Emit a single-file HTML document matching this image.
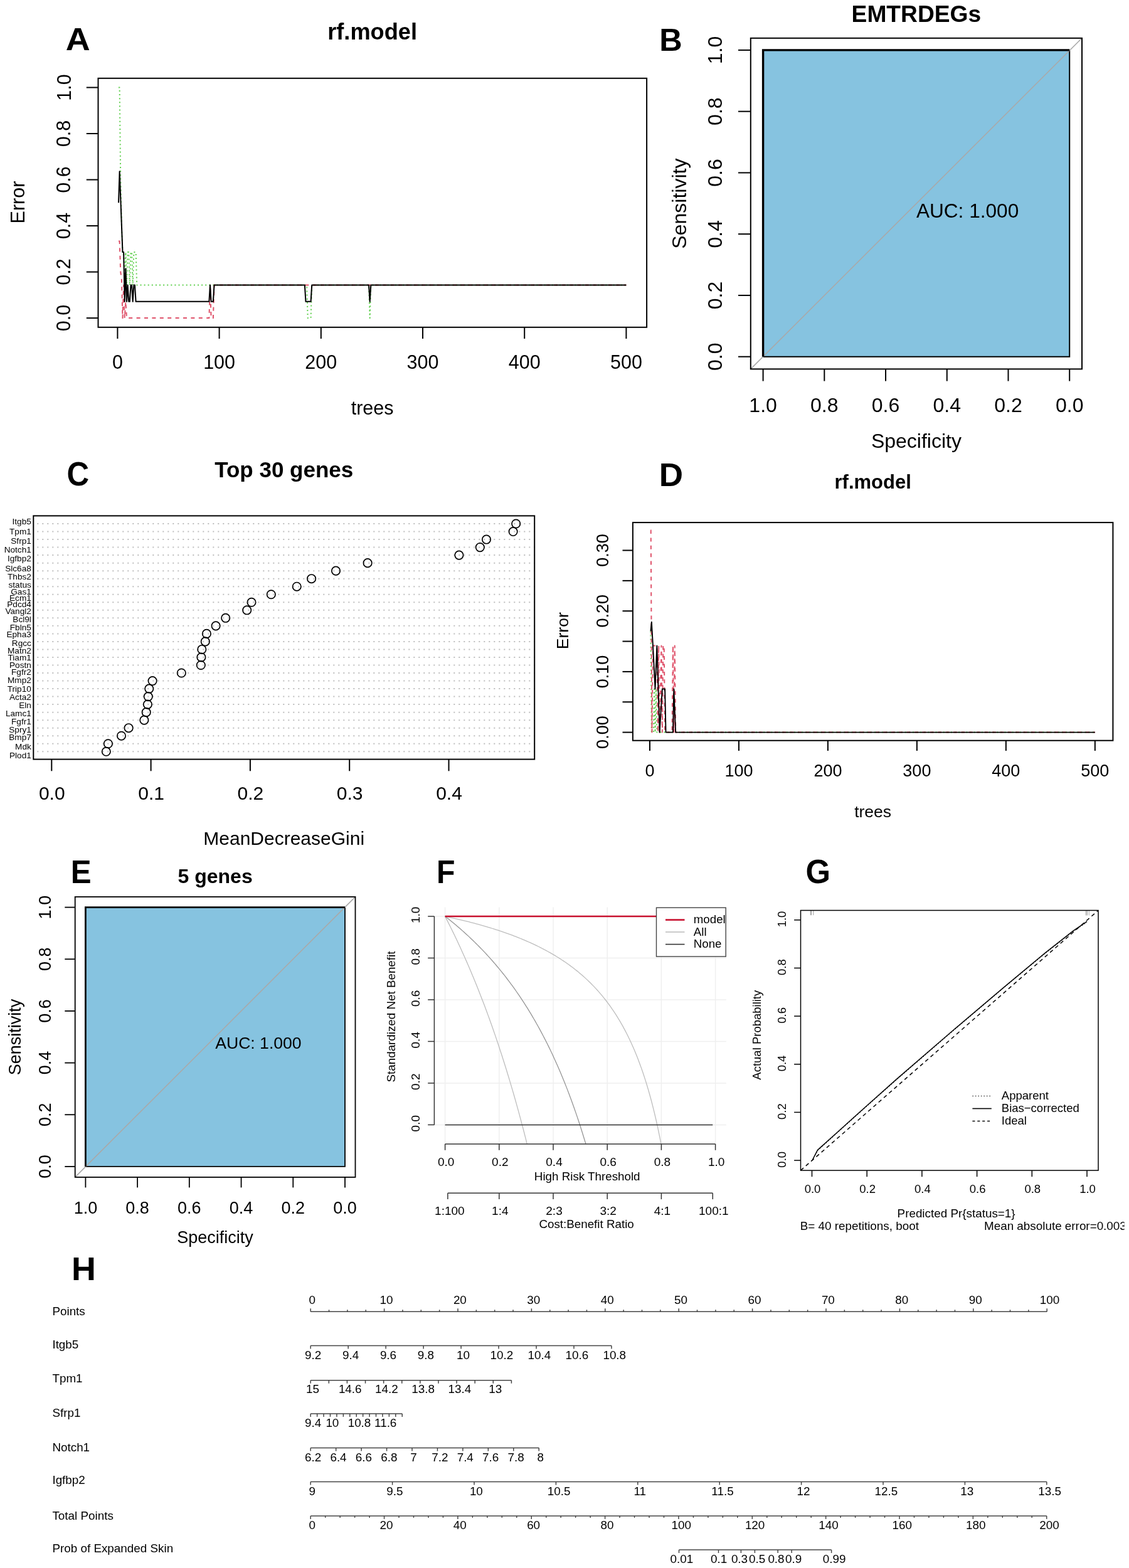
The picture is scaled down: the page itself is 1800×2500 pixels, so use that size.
<!DOCTYPE html>
<html><head><meta charset="utf-8"><title>Figure</title>
<style>
html,body{margin:0;padding:0;background:#fff;width:1800px;height:2500px;overflow:hidden}
svg{display:block}
text{font-family:"Liberation Sans",Arial,Helvetica,sans-serif}
</style></head><body>
<svg width="1800" height="2500" viewBox="0 0 1800 2500" font-family="'Liberation Sans', Arial, Helvetica, sans-serif">
<rect x="0" y="0" width="1800" height="2500" fill="#fff"/>
<text x="0" y="0" font-size="50" font-weight="bold" fill="#000" transform="translate(104.78 80.49) scale(1.0788 1.0171)">A</text>
<text x="593.6" y="63.2" font-size="36.2" text-anchor="middle" font-weight="bold" fill="#000">rf.model</text>
<polyline points="189.02,139.5 190.64,139.5 192.27,286.54 193.89,360.06 195.51,402.08 197.13,402.08 198.75,454.57 200.38,402.08 202,454.57 203.62,402.08 205.24,402.08 206.86,454.57 208.49,402.08 210.11,402.08 211.73,454.57 213.35,402.08 214.97,402.08 216.6,402.08 218.22,454.57 489.09,454.57 490.71,507.1 495.58,507.1 497.2,454.57 588.03,454.57 589.66,507.1 591.28,454.57 998.4,454.57" fill="none" stroke="#61D04F" stroke-width="2" stroke-linejoin="round" stroke-linecap="butt" stroke-dasharray="2,4.1"/>
<polyline points="189.02,384.58 190.64,384.58 192.27,433.58 193.89,445.82 195.51,507.1 197.13,454.57 198.75,507.1 200.38,480.85 202,507.1 333.38,507.1 335,454.57 336.62,507.1 339.87,507.1 341.49,454.57 998.4,454.57" fill="none" stroke="#DF536B" stroke-width="2" stroke-linejoin="round" stroke-linecap="butt" stroke-dasharray="6,6.4"/>
<polyline points="189.02,323.3 190.64,273.16 195.51,402.08 197.13,402.08 198.75,480.85 200.38,428.32 202,480.85 203.62,454.57 205.24,480.85 206.86,480.85 208.49,454.57 210.11,454.57 211.73,480.85 213.35,454.57 214.97,454.57 216.6,480.85 333.38,480.85 335,454.57 336.62,480.85 339.87,480.85 341.49,454.57 485.85,454.57 487.47,480.85 495.58,480.85 497.2,454.57 588.03,454.57 589.66,480.85 591.28,454.57 998.4,454.57" fill="none" stroke="#000" stroke-width="2" stroke-linejoin="round" stroke-linecap="butt"/>
<rect x="156.5" y="124.8" width="874.6" height="397" stroke="#000" stroke-width="2" fill="none"/>
<line x1="137.8" y1="507.1" x2="156.5" y2="507.1" stroke="#000" stroke-width="2" stroke-linecap="butt"/>
<text x="112.5" y="507.1" font-size="30.5" text-anchor="middle" transform="rotate(-90 112.5 507.1)" fill="#000">0.0</text>
<line x1="137.8" y1="433.58" x2="156.5" y2="433.58" stroke="#000" stroke-width="2" stroke-linecap="butt"/>
<text x="112.5" y="433.58" font-size="30.5" text-anchor="middle" transform="rotate(-90 112.5 433.58)" fill="#000">0.2</text>
<line x1="137.8" y1="360.06" x2="156.5" y2="360.06" stroke="#000" stroke-width="2" stroke-linecap="butt"/>
<text x="112.5" y="360.06" font-size="30.5" text-anchor="middle" transform="rotate(-90 112.5 360.06)" fill="#000">0.4</text>
<line x1="137.8" y1="286.54" x2="156.5" y2="286.54" stroke="#000" stroke-width="2" stroke-linecap="butt"/>
<text x="112.5" y="286.54" font-size="30.5" text-anchor="middle" transform="rotate(-90 112.5 286.54)" fill="#000">0.6</text>
<line x1="137.8" y1="213.02" x2="156.5" y2="213.02" stroke="#000" stroke-width="2" stroke-linecap="butt"/>
<text x="112.5" y="213.02" font-size="30.5" text-anchor="middle" transform="rotate(-90 112.5 213.02)" fill="#000">0.8</text>
<line x1="137.8" y1="139.5" x2="156.5" y2="139.5" stroke="#000" stroke-width="2" stroke-linecap="butt"/>
<text x="112.5" y="139.5" font-size="30.5" text-anchor="middle" transform="rotate(-90 112.5 139.5)" fill="#000">1.0</text>
<line x1="187.4" y1="521.8" x2="187.4" y2="540" stroke="#000" stroke-width="2" stroke-linecap="butt"/>
<text x="187.4" y="587.5" font-size="30.5" text-anchor="middle" fill="#000">0</text>
<line x1="349.6" y1="521.8" x2="349.6" y2="540" stroke="#000" stroke-width="2" stroke-linecap="butt"/>
<text x="349.6" y="587.5" font-size="30.5" text-anchor="middle" fill="#000">100</text>
<line x1="511.8" y1="521.8" x2="511.8" y2="540" stroke="#000" stroke-width="2" stroke-linecap="butt"/>
<text x="511.8" y="587.5" font-size="30.5" text-anchor="middle" fill="#000">200</text>
<line x1="674" y1="521.8" x2="674" y2="540" stroke="#000" stroke-width="2" stroke-linecap="butt"/>
<text x="674" y="587.5" font-size="30.5" text-anchor="middle" fill="#000">300</text>
<line x1="836.2" y1="521.8" x2="836.2" y2="540" stroke="#000" stroke-width="2" stroke-linecap="butt"/>
<text x="836.2" y="587.5" font-size="30.5" text-anchor="middle" fill="#000">400</text>
<line x1="998.4" y1="521.8" x2="998.4" y2="540" stroke="#000" stroke-width="2" stroke-linecap="butt"/>
<text x="998.4" y="587.5" font-size="30.5" text-anchor="middle" fill="#000">500</text>
<text x="593.6" y="661" font-size="30.5" text-anchor="middle" fill="#000">trees</text>
<text x="39" y="322.5" font-size="30.5" text-anchor="middle" transform="rotate(-90 39 322.5)" fill="#000">Error</text>
<text x="0" y="0" font-size="50" font-weight="bold" fill="#000" transform="translate(1051.16 80.8) scale(1.0100 1.0057)">B</text>
<text x="1460.9" y="34.5" font-size="37.2" text-anchor="middle" font-weight="bold" fill="#000">EMTRDEGs</text>
<rect x="1216.6" y="79.9" width="488.6" height="488.8" stroke="none" stroke-width="0" fill="#86C3E0"/>
<polyline points="1216.6,568.7 1705.2,568.7 1705.2,79.9" fill="none" stroke="#000" stroke-width="2" stroke-linejoin="miter" stroke-linecap="butt"/>
<line x1="1196.8" y1="588.4" x2="1725" y2="60.8" stroke="#A9A9A9" stroke-width="1.6" stroke-linecap="butt"/>
<polyline points="1216.6,568.7 1216.6,79.9 1705.2,79.9" fill="none" stroke="#000" stroke-width="3.4" stroke-linejoin="miter" stroke-linecap="butt"/>
<rect x="1196.8" y="60.8" width="528.2" height="527.6" stroke="#000" stroke-width="2" fill="none"/>
<line x1="1177" y1="568.7" x2="1196.8" y2="568.7" stroke="#000" stroke-width="2" stroke-linecap="butt"/>
<text x="1151.3" y="568.7" font-size="32" text-anchor="middle" transform="rotate(-90 1151.3 568.7)" fill="#000">0.0</text>
<line x1="1216.6" y1="588.4" x2="1216.6" y2="607.6" stroke="#000" stroke-width="2" stroke-linecap="butt"/>
<text x="1216.6" y="656.5" font-size="32" text-anchor="middle" fill="#000">1.0</text>
<line x1="1177" y1="470.94" x2="1196.8" y2="470.94" stroke="#000" stroke-width="2" stroke-linecap="butt"/>
<text x="1151.3" y="470.94" font-size="32" text-anchor="middle" transform="rotate(-90 1151.3 470.94)" fill="#000">0.2</text>
<line x1="1314.32" y1="588.4" x2="1314.32" y2="607.6" stroke="#000" stroke-width="2" stroke-linecap="butt"/>
<text x="1314.32" y="656.5" font-size="32" text-anchor="middle" fill="#000">0.8</text>
<line x1="1177" y1="373.18" x2="1196.8" y2="373.18" stroke="#000" stroke-width="2" stroke-linecap="butt"/>
<text x="1151.3" y="373.18" font-size="32" text-anchor="middle" transform="rotate(-90 1151.3 373.18)" fill="#000">0.4</text>
<line x1="1412.04" y1="588.4" x2="1412.04" y2="607.6" stroke="#000" stroke-width="2" stroke-linecap="butt"/>
<text x="1412.04" y="656.5" font-size="32" text-anchor="middle" fill="#000">0.6</text>
<line x1="1177" y1="275.42" x2="1196.8" y2="275.42" stroke="#000" stroke-width="2" stroke-linecap="butt"/>
<text x="1151.3" y="275.42" font-size="32" text-anchor="middle" transform="rotate(-90 1151.3 275.42)" fill="#000">0.6</text>
<line x1="1509.76" y1="588.4" x2="1509.76" y2="607.6" stroke="#000" stroke-width="2" stroke-linecap="butt"/>
<text x="1509.76" y="656.5" font-size="32" text-anchor="middle" fill="#000">0.4</text>
<line x1="1177" y1="177.66" x2="1196.8" y2="177.66" stroke="#000" stroke-width="2" stroke-linecap="butt"/>
<text x="1151.3" y="177.66" font-size="32" text-anchor="middle" transform="rotate(-90 1151.3 177.66)" fill="#000">0.8</text>
<line x1="1607.48" y1="588.4" x2="1607.48" y2="607.6" stroke="#000" stroke-width="2" stroke-linecap="butt"/>
<text x="1607.48" y="656.5" font-size="32" text-anchor="middle" fill="#000">0.2</text>
<line x1="1177" y1="79.9" x2="1196.8" y2="79.9" stroke="#000" stroke-width="2" stroke-linecap="butt"/>
<text x="1151.3" y="79.9" font-size="32" text-anchor="middle" transform="rotate(-90 1151.3 79.9)" fill="#000">1.0</text>
<line x1="1705.2" y1="588.4" x2="1705.2" y2="607.6" stroke="#000" stroke-width="2" stroke-linecap="butt"/>
<text x="1705.2" y="656.5" font-size="32" text-anchor="middle" fill="#000">0.0</text>
<text x="1460.9" y="714.3" font-size="32" text-anchor="middle" fill="#000">Specificity</text>
<text x="1093.9" y="324.6" font-size="32" text-anchor="middle" transform="rotate(-90 1093.9 324.6)" fill="#000">Sensitivity</text>
<text x="1460.9" y="346.93" font-size="31.6" text-anchor="start" fill="#000">AUC: 1.000</text>
<text x="0" y="0" font-size="50" font-weight="bold" fill="#000" transform="translate(106.43 774.47) scale(0.9875 1.0600)">C</text>
<text x="452.7" y="761.3" font-size="35" text-anchor="middle" font-weight="bold" fill="#000">Top 30 genes</text>
<line x1="53.3" y1="835" x2="852.2" y2="835" stroke="#BEBEBE" stroke-width="2" stroke-linecap="butt" stroke-dasharray="2,6" stroke-dashoffset="-6"/>
<line x1="53.3" y1="847.53" x2="852.2" y2="847.53" stroke="#BEBEBE" stroke-width="2" stroke-linecap="butt" stroke-dasharray="2,6" stroke-dashoffset="-6"/>
<line x1="53.3" y1="860.05" x2="852.2" y2="860.05" stroke="#BEBEBE" stroke-width="2" stroke-linecap="butt" stroke-dasharray="2,6" stroke-dashoffset="-6"/>
<line x1="53.3" y1="872.58" x2="852.2" y2="872.58" stroke="#BEBEBE" stroke-width="2" stroke-linecap="butt" stroke-dasharray="2,6" stroke-dashoffset="-6"/>
<line x1="53.3" y1="885.11" x2="852.2" y2="885.11" stroke="#BEBEBE" stroke-width="2" stroke-linecap="butt" stroke-dasharray="2,6" stroke-dashoffset="-6"/>
<line x1="53.3" y1="897.63" x2="852.2" y2="897.63" stroke="#BEBEBE" stroke-width="2" stroke-linecap="butt" stroke-dasharray="2,6" stroke-dashoffset="-6"/>
<line x1="53.3" y1="910.16" x2="852.2" y2="910.16" stroke="#BEBEBE" stroke-width="2" stroke-linecap="butt" stroke-dasharray="2,6" stroke-dashoffset="-6"/>
<line x1="53.3" y1="922.69" x2="852.2" y2="922.69" stroke="#BEBEBE" stroke-width="2" stroke-linecap="butt" stroke-dasharray="2,6" stroke-dashoffset="-6"/>
<line x1="53.3" y1="935.22" x2="852.2" y2="935.22" stroke="#BEBEBE" stroke-width="2" stroke-linecap="butt" stroke-dasharray="2,6" stroke-dashoffset="-6"/>
<line x1="53.3" y1="947.74" x2="852.2" y2="947.74" stroke="#BEBEBE" stroke-width="2" stroke-linecap="butt" stroke-dasharray="2,6" stroke-dashoffset="-6"/>
<line x1="53.3" y1="960.27" x2="852.2" y2="960.27" stroke="#BEBEBE" stroke-width="2" stroke-linecap="butt" stroke-dasharray="2,6" stroke-dashoffset="-6"/>
<line x1="53.3" y1="972.8" x2="852.2" y2="972.8" stroke="#BEBEBE" stroke-width="2" stroke-linecap="butt" stroke-dasharray="2,6" stroke-dashoffset="-6"/>
<line x1="53.3" y1="985.32" x2="852.2" y2="985.32" stroke="#BEBEBE" stroke-width="2" stroke-linecap="butt" stroke-dasharray="2,6" stroke-dashoffset="-6"/>
<line x1="53.3" y1="997.85" x2="852.2" y2="997.85" stroke="#BEBEBE" stroke-width="2" stroke-linecap="butt" stroke-dasharray="2,6" stroke-dashoffset="-6"/>
<line x1="53.3" y1="1010.38" x2="852.2" y2="1010.38" stroke="#BEBEBE" stroke-width="2" stroke-linecap="butt" stroke-dasharray="2,6" stroke-dashoffset="-6"/>
<line x1="53.3" y1="1022.9" x2="852.2" y2="1022.9" stroke="#BEBEBE" stroke-width="2" stroke-linecap="butt" stroke-dasharray="2,6" stroke-dashoffset="-6"/>
<line x1="53.3" y1="1035.43" x2="852.2" y2="1035.43" stroke="#BEBEBE" stroke-width="2" stroke-linecap="butt" stroke-dasharray="2,6" stroke-dashoffset="-6"/>
<line x1="53.3" y1="1047.96" x2="852.2" y2="1047.96" stroke="#BEBEBE" stroke-width="2" stroke-linecap="butt" stroke-dasharray="2,6" stroke-dashoffset="-6"/>
<line x1="53.3" y1="1060.49" x2="852.2" y2="1060.49" stroke="#BEBEBE" stroke-width="2" stroke-linecap="butt" stroke-dasharray="2,6" stroke-dashoffset="-6"/>
<line x1="53.3" y1="1073.01" x2="852.2" y2="1073.01" stroke="#BEBEBE" stroke-width="2" stroke-linecap="butt" stroke-dasharray="2,6" stroke-dashoffset="-6"/>
<line x1="53.3" y1="1085.54" x2="852.2" y2="1085.54" stroke="#BEBEBE" stroke-width="2" stroke-linecap="butt" stroke-dasharray="2,6" stroke-dashoffset="-6"/>
<line x1="53.3" y1="1098.07" x2="852.2" y2="1098.07" stroke="#BEBEBE" stroke-width="2" stroke-linecap="butt" stroke-dasharray="2,6" stroke-dashoffset="-6"/>
<line x1="53.3" y1="1110.59" x2="852.2" y2="1110.59" stroke="#BEBEBE" stroke-width="2" stroke-linecap="butt" stroke-dasharray="2,6" stroke-dashoffset="-6"/>
<line x1="53.3" y1="1123.12" x2="852.2" y2="1123.12" stroke="#BEBEBE" stroke-width="2" stroke-linecap="butt" stroke-dasharray="2,6" stroke-dashoffset="-6"/>
<line x1="53.3" y1="1135.65" x2="852.2" y2="1135.65" stroke="#BEBEBE" stroke-width="2" stroke-linecap="butt" stroke-dasharray="2,6" stroke-dashoffset="-6"/>
<line x1="53.3" y1="1148.17" x2="852.2" y2="1148.17" stroke="#BEBEBE" stroke-width="2" stroke-linecap="butt" stroke-dasharray="2,6" stroke-dashoffset="-6"/>
<line x1="53.3" y1="1160.7" x2="852.2" y2="1160.7" stroke="#BEBEBE" stroke-width="2" stroke-linecap="butt" stroke-dasharray="2,6" stroke-dashoffset="-6"/>
<line x1="53.3" y1="1173.23" x2="852.2" y2="1173.23" stroke="#BEBEBE" stroke-width="2" stroke-linecap="butt" stroke-dasharray="2,6" stroke-dashoffset="-6"/>
<line x1="53.3" y1="1185.76" x2="852.2" y2="1185.76" stroke="#BEBEBE" stroke-width="2" stroke-linecap="butt" stroke-dasharray="2,6" stroke-dashoffset="-6"/>
<line x1="53.3" y1="1198.28" x2="852.2" y2="1198.28" stroke="#BEBEBE" stroke-width="2" stroke-linecap="butt" stroke-dasharray="2,6" stroke-dashoffset="-6"/>
<circle cx="822.7" cy="835" r="6.7" stroke="#000" stroke-width="1.7" fill="none"/>
<text x="49.8" y="836.2" font-size="13.6" text-anchor="end" fill="#000">Itgb5</text>
<circle cx="818.1" cy="847.53" r="6.7" stroke="#000" stroke-width="1.7" fill="none"/>
<text x="49.8" y="851.5" font-size="13.6" text-anchor="end" fill="#000">Tpm1</text>
<circle cx="775.5" cy="860.05" r="6.7" stroke="#000" stroke-width="1.7" fill="none"/>
<text x="49.8" y="866.5" font-size="13.6" text-anchor="end" fill="#000">Sfrp1</text>
<circle cx="765.3" cy="872.58" r="6.7" stroke="#000" stroke-width="1.7" fill="none"/>
<text x="49.8" y="881.2" font-size="13.6" text-anchor="end" fill="#000">Notch1</text>
<circle cx="731.9" cy="885.11" r="6.7" stroke="#000" stroke-width="1.7" fill="none"/>
<text x="49.8" y="895.3" font-size="13.6" text-anchor="end" fill="#000">Igfbp2</text>
<circle cx="586.1" cy="897.63" r="6.7" stroke="#000" stroke-width="1.7" fill="none"/>
<text x="49.8" y="911.4" font-size="13.6" text-anchor="end" fill="#000">Slc6a8</text>
<circle cx="535.5" cy="910.16" r="6.7" stroke="#000" stroke-width="1.7" fill="none"/>
<text x="49.8" y="924.3" font-size="13.6" text-anchor="end" fill="#000">Thbs2</text>
<circle cx="496.6" cy="922.69" r="6.7" stroke="#000" stroke-width="1.7" fill="none"/>
<text x="49.8" y="936.5" font-size="13.6" text-anchor="end" fill="#000">status</text>
<circle cx="473.2" cy="935.22" r="6.7" stroke="#000" stroke-width="1.7" fill="none"/>
<text x="49.8" y="947.9" font-size="13.6" text-anchor="end" fill="#000">Gas1</text>
<circle cx="432.3" cy="947.74" r="6.7" stroke="#000" stroke-width="1.7" fill="none"/>
<text x="49.8" y="958.3" font-size="13.6" text-anchor="end" fill="#000">Ecm1</text>
<circle cx="401" cy="960.27" r="6.7" stroke="#000" stroke-width="1.7" fill="none"/>
<text x="49.8" y="968.4" font-size="13.6" text-anchor="end" fill="#000">Pdcd4</text>
<circle cx="393.7" cy="972.8" r="6.7" stroke="#000" stroke-width="1.7" fill="none"/>
<text x="49.8" y="979.4" font-size="13.6" text-anchor="end" fill="#000">Vangl2</text>
<circle cx="359.7" cy="985.32" r="6.7" stroke="#000" stroke-width="1.7" fill="none"/>
<text x="49.8" y="991.7" font-size="13.6" text-anchor="end" fill="#000">Bcl9l</text>
<circle cx="344.1" cy="997.85" r="6.7" stroke="#000" stroke-width="1.7" fill="none"/>
<text x="49.8" y="1004.8" font-size="13.6" text-anchor="end" fill="#000">Fbln5</text>
<circle cx="329.4" cy="1010.38" r="6.7" stroke="#000" stroke-width="1.7" fill="none"/>
<text x="49.8" y="1016.1" font-size="13.6" text-anchor="end" fill="#000">Epha3</text>
<circle cx="327.3" cy="1022.9" r="6.7" stroke="#000" stroke-width="1.7" fill="none"/>
<text x="49.8" y="1030.2" font-size="13.6" text-anchor="end" fill="#000">Rgcc</text>
<circle cx="321.8" cy="1035.43" r="6.7" stroke="#000" stroke-width="1.7" fill="none"/>
<text x="49.8" y="1042.2" font-size="13.6" text-anchor="end" fill="#000">Matn2</text>
<circle cx="320.9" cy="1047.96" r="6.7" stroke="#000" stroke-width="1.7" fill="none"/>
<text x="49.8" y="1052.6" font-size="13.6" text-anchor="end" fill="#000">Tiam1</text>
<circle cx="320.3" cy="1060.49" r="6.7" stroke="#000" stroke-width="1.7" fill="none"/>
<text x="49.8" y="1065.4" font-size="13.6" text-anchor="end" fill="#000">Postn</text>
<circle cx="289.3" cy="1073.01" r="6.7" stroke="#000" stroke-width="1.7" fill="none"/>
<text x="49.8" y="1076.4" font-size="13.6" text-anchor="end" fill="#000">Fgfr2</text>
<circle cx="243.1" cy="1085.54" r="6.7" stroke="#000" stroke-width="1.7" fill="none"/>
<text x="49.8" y="1088.7" font-size="13.6" text-anchor="end" fill="#000">Mmp2</text>
<circle cx="237.8" cy="1098.07" r="6.7" stroke="#000" stroke-width="1.7" fill="none"/>
<text x="49.8" y="1102.5" font-size="13.6" text-anchor="end" fill="#000">Trip10</text>
<circle cx="236.3" cy="1110.59" r="6.7" stroke="#000" stroke-width="1.7" fill="none"/>
<text x="49.8" y="1115.6" font-size="13.6" text-anchor="end" fill="#000">Acta2</text>
<circle cx="235.4" cy="1123.12" r="6.7" stroke="#000" stroke-width="1.7" fill="none"/>
<text x="49.8" y="1128.8" font-size="13.6" text-anchor="end" fill="#000">Eln</text>
<circle cx="233.2" cy="1135.65" r="6.7" stroke="#000" stroke-width="1.7" fill="none"/>
<text x="49.8" y="1142.3" font-size="13.6" text-anchor="end" fill="#000">Lamc1</text>
<circle cx="229.9" cy="1148.17" r="6.7" stroke="#000" stroke-width="1.7" fill="none"/>
<text x="49.8" y="1154.5" font-size="13.6" text-anchor="end" fill="#000">Fgfr1</text>
<circle cx="205.1" cy="1160.7" r="6.7" stroke="#000" stroke-width="1.7" fill="none"/>
<text x="49.8" y="1168" font-size="13.6" text-anchor="end" fill="#000">Spry1</text>
<circle cx="193.5" cy="1173.23" r="6.7" stroke="#000" stroke-width="1.7" fill="none"/>
<text x="49.8" y="1179.9" font-size="13.6" text-anchor="end" fill="#000">Bmp7</text>
<circle cx="172.4" cy="1185.76" r="6.7" stroke="#000" stroke-width="1.7" fill="none"/>
<text x="49.8" y="1194.9" font-size="13.6" text-anchor="end" fill="#000">Mdk</text>
<circle cx="169.3" cy="1198.28" r="6.7" stroke="#000" stroke-width="1.7" fill="none"/>
<text x="49.8" y="1208.7" font-size="13.6" text-anchor="end" fill="#000">Plod1</text>
<rect x="53.3" y="822.4" width="798.9" height="388.2" stroke="#000" stroke-width="2" fill="none"/>
<line x1="82.3" y1="1210.6" x2="82.3" y2="1229.3" stroke="#000" stroke-width="2" stroke-linecap="butt"/>
<text x="82.8" y="1275" font-size="30" text-anchor="middle" fill="#000">0.0</text>
<line x1="240.6" y1="1210.6" x2="240.6" y2="1229.3" stroke="#000" stroke-width="2" stroke-linecap="butt"/>
<text x="241.1" y="1275" font-size="30" text-anchor="middle" fill="#000">0.1</text>
<line x1="398.9" y1="1210.6" x2="398.9" y2="1229.3" stroke="#000" stroke-width="2" stroke-linecap="butt"/>
<text x="399.4" y="1275" font-size="30" text-anchor="middle" fill="#000">0.2</text>
<line x1="557.2" y1="1210.6" x2="557.2" y2="1229.3" stroke="#000" stroke-width="2" stroke-linecap="butt"/>
<text x="557.7" y="1275" font-size="30" text-anchor="middle" fill="#000">0.3</text>
<line x1="715.5" y1="1210.6" x2="715.5" y2="1229.3" stroke="#000" stroke-width="2" stroke-linecap="butt"/>
<text x="716" y="1275" font-size="30" text-anchor="middle" fill="#000">0.4</text>
<text x="452.7" y="1347" font-size="30" text-anchor="middle" fill="#000">MeanDecreaseGini</text>
<text x="0" y="0" font-size="50" font-weight="bold" fill="#000" transform="translate(1050.69 775.1) scale(1.0600 1.0486)">D</text>
<text x="1391.7" y="778.6" font-size="31" text-anchor="middle" font-weight="bold" fill="#000">rf.model</text>
<polyline points="1037.42,1006.4 1038.84,1167.6 1041.68,1167.6 1043.1,1098.56 1044.52,1167.6 1045.94,1098.56 1047.36,1167.6 1745.8,1167.6" fill="none" stroke="#61D04F" stroke-width="2" stroke-linejoin="round" stroke-linecap="butt" stroke-dasharray="2,4.1"/>
<polyline points="1037.42,845.3 1037.7,845.3 1039.41,1167.6 1040.97,1029.42 1047.36,1029.42 1048.78,1167.6 1050.2,1029.42 1051.62,1167.6 1054.45,1029.42 1055.87,1167.6 1057.29,1029.42 1058.71,1029.42 1060.13,1167.6 1071.49,1167.6 1072.91,1029.42 1074.33,1167.6 1075.75,1029.42 1077.17,1167.6 1745.8,1167.6" fill="none" stroke="#DF536B" stroke-width="2" stroke-linejoin="round" stroke-linecap="butt" stroke-dasharray="6,6.4"/>
<polyline points="1037.42,1006.4 1038.84,991.8 1040.97,1029.42 1044.52,1098.56 1047.36,1029.42 1051.62,1167.6 1055.87,1098.56 1060.13,1098.56 1061.55,1167.6 1072.91,1167.6 1074.33,1098.56 1077.17,1167.6 1745.8,1167.6" fill="none" stroke="#000" stroke-width="1.9" stroke-linejoin="round" stroke-linecap="butt"/>
<rect x="1008.9" y="833.1" width="765.5" height="347.6" stroke="#000" stroke-width="2" fill="none"/>
<line x1="992.5" y1="1167.6" x2="1008.9" y2="1167.6" stroke="#000" stroke-width="2" stroke-linecap="butt"/>
<text x="970.4" y="1167.6" font-size="27" text-anchor="middle" transform="rotate(-90 970.4 1167.6)" fill="#000">0.00</text>
<line x1="992.5" y1="1119.25" x2="1008.9" y2="1119.25" stroke="#000" stroke-width="2" stroke-linecap="butt"/>
<line x1="992.5" y1="1070.9" x2="1008.9" y2="1070.9" stroke="#000" stroke-width="2" stroke-linecap="butt"/>
<text x="970.4" y="1070.9" font-size="27" text-anchor="middle" transform="rotate(-90 970.4 1070.9)" fill="#000">0.10</text>
<line x1="992.5" y1="1022.55" x2="1008.9" y2="1022.55" stroke="#000" stroke-width="2" stroke-linecap="butt"/>
<line x1="992.5" y1="974.2" x2="1008.9" y2="974.2" stroke="#000" stroke-width="2" stroke-linecap="butt"/>
<text x="970.4" y="974.2" font-size="27" text-anchor="middle" transform="rotate(-90 970.4 974.2)" fill="#000">0.20</text>
<line x1="992.5" y1="925.85" x2="1008.9" y2="925.85" stroke="#000" stroke-width="2" stroke-linecap="butt"/>
<line x1="992.5" y1="877.5" x2="1008.9" y2="877.5" stroke="#000" stroke-width="2" stroke-linecap="butt"/>
<text x="970.4" y="877.5" font-size="27" text-anchor="middle" transform="rotate(-90 970.4 877.5)" fill="#000">0.30</text>
<line x1="1036" y1="1180.7" x2="1036" y2="1197" stroke="#000" stroke-width="2" stroke-linecap="butt"/>
<text x="1036" y="1237.8" font-size="27" text-anchor="middle" fill="#000">0</text>
<line x1="1177.96" y1="1180.7" x2="1177.96" y2="1197" stroke="#000" stroke-width="2" stroke-linecap="butt"/>
<text x="1177.96" y="1237.8" font-size="27" text-anchor="middle" fill="#000">100</text>
<line x1="1319.92" y1="1180.7" x2="1319.92" y2="1197" stroke="#000" stroke-width="2" stroke-linecap="butt"/>
<text x="1319.92" y="1237.8" font-size="27" text-anchor="middle" fill="#000">200</text>
<line x1="1461.88" y1="1180.7" x2="1461.88" y2="1197" stroke="#000" stroke-width="2" stroke-linecap="butt"/>
<text x="1461.88" y="1237.8" font-size="27" text-anchor="middle" fill="#000">300</text>
<line x1="1603.84" y1="1180.7" x2="1603.84" y2="1197" stroke="#000" stroke-width="2" stroke-linecap="butt"/>
<text x="1603.84" y="1237.8" font-size="27" text-anchor="middle" fill="#000">400</text>
<line x1="1745.8" y1="1180.7" x2="1745.8" y2="1197" stroke="#000" stroke-width="2" stroke-linecap="butt"/>
<text x="1745.8" y="1237.8" font-size="27" text-anchor="middle" fill="#000">500</text>
<text x="1391.6" y="1302.5" font-size="26.5" text-anchor="middle" fill="#000">trees</text>
<text x="906" y="1005.7" font-size="26.5" text-anchor="middle" transform="rotate(-90 906 1005.7)" fill="#000">Error</text>
<text x="0" y="0" font-size="50" font-weight="bold" fill="#000" transform="translate(112.65 1407.59) scale(0.9857 1.0400)">E</text>
<text x="343.1" y="1407.5" font-size="32" text-anchor="middle" font-weight="bold" fill="#000">5 genes</text>
<rect x="136.4" y="1446.6" width="413.6" height="413.3" stroke="none" stroke-width="0" fill="#86C3E0"/>
<polyline points="136.4,1859.9 550,1859.9 550,1446.6" fill="none" stroke="#000" stroke-width="1.8" stroke-linejoin="miter" stroke-linecap="butt"/>
<line x1="119.7" y1="1876.9" x2="566.5" y2="1429.9" stroke="#A9A9A9" stroke-width="1.6" stroke-linecap="butt"/>
<polyline points="136.4,1859.9 136.4,1446.6 550,1446.6" fill="none" stroke="#000" stroke-width="2.8" stroke-linejoin="miter" stroke-linecap="butt"/>
<rect x="119.7" y="1429.9" width="446.8" height="447" stroke="#000" stroke-width="1.8" fill="none"/>
<line x1="103.3" y1="1859.9" x2="119.7" y2="1859.9" stroke="#000" stroke-width="1.8" stroke-linecap="butt"/>
<text x="81.4" y="1859.9" font-size="27" text-anchor="middle" transform="rotate(-90 81.4 1859.9)" fill="#000">0.0</text>
<line x1="136.4" y1="1876.9" x2="136.4" y2="1893.4" stroke="#000" stroke-width="1.8" stroke-linecap="butt"/>
<text x="136.4" y="1934.5" font-size="27" text-anchor="middle" fill="#000">1.0</text>
<line x1="103.3" y1="1777.24" x2="119.7" y2="1777.24" stroke="#000" stroke-width="1.8" stroke-linecap="butt"/>
<text x="81.4" y="1777.24" font-size="27" text-anchor="middle" transform="rotate(-90 81.4 1777.24)" fill="#000">0.2</text>
<line x1="219.12" y1="1876.9" x2="219.12" y2="1893.4" stroke="#000" stroke-width="1.8" stroke-linecap="butt"/>
<text x="219.12" y="1934.5" font-size="27" text-anchor="middle" fill="#000">0.8</text>
<line x1="103.3" y1="1694.58" x2="119.7" y2="1694.58" stroke="#000" stroke-width="1.8" stroke-linecap="butt"/>
<text x="81.4" y="1694.58" font-size="27" text-anchor="middle" transform="rotate(-90 81.4 1694.58)" fill="#000">0.4</text>
<line x1="301.84" y1="1876.9" x2="301.84" y2="1893.4" stroke="#000" stroke-width="1.8" stroke-linecap="butt"/>
<text x="301.84" y="1934.5" font-size="27" text-anchor="middle" fill="#000">0.6</text>
<line x1="103.3" y1="1611.92" x2="119.7" y2="1611.92" stroke="#000" stroke-width="1.8" stroke-linecap="butt"/>
<text x="81.4" y="1611.92" font-size="27" text-anchor="middle" transform="rotate(-90 81.4 1611.92)" fill="#000">0.6</text>
<line x1="384.56" y1="1876.9" x2="384.56" y2="1893.4" stroke="#000" stroke-width="1.8" stroke-linecap="butt"/>
<text x="384.56" y="1934.5" font-size="27" text-anchor="middle" fill="#000">0.4</text>
<line x1="103.3" y1="1529.26" x2="119.7" y2="1529.26" stroke="#000" stroke-width="1.8" stroke-linecap="butt"/>
<text x="81.4" y="1529.26" font-size="27" text-anchor="middle" transform="rotate(-90 81.4 1529.26)" fill="#000">0.8</text>
<line x1="467.28" y1="1876.9" x2="467.28" y2="1893.4" stroke="#000" stroke-width="1.8" stroke-linecap="butt"/>
<text x="467.28" y="1934.5" font-size="27" text-anchor="middle" fill="#000">0.2</text>
<line x1="103.3" y1="1446.6" x2="119.7" y2="1446.6" stroke="#000" stroke-width="1.8" stroke-linecap="butt"/>
<text x="81.4" y="1446.6" font-size="27" text-anchor="middle" transform="rotate(-90 81.4 1446.6)" fill="#000">1.0</text>
<line x1="550" y1="1876.9" x2="550" y2="1893.4" stroke="#000" stroke-width="1.8" stroke-linecap="butt"/>
<text x="550" y="1934.5" font-size="27" text-anchor="middle" fill="#000">0.0</text>
<text x="343.1" y="1982.4" font-size="27" text-anchor="middle" fill="#000">Specificity</text>
<text x="32.6" y="1653.4" font-size="27" text-anchor="middle" transform="rotate(-90 32.6 1653.4)" fill="#000">Sensitivity</text>
<text x="343.2" y="1672.3" font-size="26.6" text-anchor="start" fill="#000">AUC: 1.000</text>
<text x="0" y="0" font-size="50" font-weight="bold" fill="#000" transform="translate(695.9 1407.59) scale(0.9654 1.0343)">F</text>
<line x1="709.6" y1="1446.4" x2="709.6" y2="1824" stroke="#EFEFEF" stroke-width="1.5" stroke-linecap="butt"/>
<line x1="692.4" y1="1793.4" x2="1157.8" y2="1793.4" stroke="#EFEFEF" stroke-width="1.5" stroke-linecap="butt"/>
<line x1="795.8" y1="1446.4" x2="795.8" y2="1824" stroke="#EFEFEF" stroke-width="1.5" stroke-linecap="butt"/>
<line x1="692.4" y1="1726.92" x2="1157.8" y2="1726.92" stroke="#EFEFEF" stroke-width="1.5" stroke-linecap="butt"/>
<line x1="882" y1="1446.4" x2="882" y2="1824" stroke="#EFEFEF" stroke-width="1.5" stroke-linecap="butt"/>
<line x1="692.4" y1="1660.44" x2="1157.8" y2="1660.44" stroke="#EFEFEF" stroke-width="1.5" stroke-linecap="butt"/>
<line x1="968.2" y1="1446.4" x2="968.2" y2="1824" stroke="#EFEFEF" stroke-width="1.5" stroke-linecap="butt"/>
<line x1="692.4" y1="1593.96" x2="1157.8" y2="1593.96" stroke="#EFEFEF" stroke-width="1.5" stroke-linecap="butt"/>
<line x1="1054.4" y1="1446.4" x2="1054.4" y2="1824" stroke="#EFEFEF" stroke-width="1.5" stroke-linecap="butt"/>
<line x1="692.4" y1="1527.48" x2="1157.8" y2="1527.48" stroke="#EFEFEF" stroke-width="1.5" stroke-linecap="butt"/>
<line x1="1140.6" y1="1446.4" x2="1140.6" y2="1824" stroke="#EFEFEF" stroke-width="1.5" stroke-linecap="butt"/>
<line x1="692.4" y1="1461" x2="1157.8" y2="1461" stroke="#EFEFEF" stroke-width="1.5" stroke-linecap="butt"/>
<polyline points="709.6,1461 711.74,1465.17 713.89,1469.38 716.03,1473.63 718.18,1477.93 720.32,1482.27 722.47,1486.66 724.61,1491.09 726.75,1495.57 728.9,1500.09 731.04,1504.66 733.19,1509.28 735.33,1513.95 737.47,1518.66 739.62,1523.43 741.76,1528.25 743.91,1533.12 746.05,1538.04 748.2,1543.02 750.34,1548.05 752.48,1553.14 754.63,1558.29 756.77,1563.49 758.92,1568.75 761.06,1574.07 763.21,1579.45 765.35,1584.89 767.49,1590.4 769.64,1595.97 771.78,1601.6 773.93,1607.3 776.07,1613.06 778.22,1618.9 780.36,1624.8 782.5,1630.77 784.65,1636.82 786.79,1642.94 788.94,1649.13 791.08,1655.4 793.22,1661.75 795.37,1668.18 797.51,1674.68 799.66,1681.27 801.8,1687.94 803.95,1694.7 806.09,1701.54 808.23,1708.48 810.38,1715.5 812.52,1722.61 814.67,1729.82 816.81,1737.12 818.96,1744.52 821.1,1752.02 823.24,1759.62 825.39,1767.33 827.53,1775.14 829.68,1783.05 831.82,1791.08 833.97,1799.22 836.11,1807.47 838.25,1815.85 840.31,1823.98" fill="none" stroke="#BDBDBD" stroke-width="1.3" stroke-linejoin="round" stroke-linecap="butt"/>
<polyline points="709.6,1461 711.74,1461.46 713.89,1461.92 716.03,1462.38 718.18,1462.85 720.32,1463.33 722.47,1463.81 724.61,1464.29 726.75,1464.78 728.9,1465.28 731.04,1465.78 733.19,1466.29 735.33,1466.8 737.47,1467.31 739.62,1467.84 741.76,1468.36 743.91,1468.9 746.05,1469.44 748.2,1469.98 750.34,1470.53 752.48,1471.09 754.63,1471.65 756.77,1472.22 758.92,1472.8 761.06,1473.38 763.21,1473.97 765.35,1474.57 767.49,1475.17 769.64,1475.78 771.78,1476.39 773.93,1477.02 776.07,1477.65 778.22,1478.29 780.36,1478.94 782.5,1479.59 784.65,1480.25 786.79,1480.92 788.94,1481.6 791.08,1482.29 793.22,1482.98 795.37,1483.68 797.51,1484.4 799.66,1485.12 801.8,1485.85 803.95,1486.59 806.09,1487.34 808.23,1488.1 810.38,1488.87 812.52,1489.65 814.67,1490.43 816.81,1491.23 818.96,1492.04 821.1,1492.87 823.24,1493.7 825.39,1494.54 827.53,1495.4 829.68,1496.26 831.82,1497.14 833.97,1498.03 836.11,1498.94 838.25,1499.85 840.4,1500.78 842.54,1501.73 844.69,1502.68 846.83,1503.65 848.97,1504.64 851.12,1505.64 853.26,1506.65 855.41,1507.68 857.55,1508.73 859.7,1509.79 861.84,1510.87 863.98,1511.96 866.13,1513.07 868.27,1514.2 870.42,1515.35 872.56,1516.51 874.71,1517.7 876.85,1518.9 878.99,1520.12 881.14,1521.37 883.28,1522.63 885.43,1523.92 887.57,1525.22 889.71,1526.55 891.86,1527.9 894,1529.28 896.15,1530.68 898.29,1532.11 900.44,1533.56 902.58,1535.03 904.72,1536.53 906.87,1538.06 909.01,1539.62 911.16,1541.21 913.3,1542.83 915.45,1544.48 917.59,1546.16 919.73,1547.87 921.88,1549.62 924.02,1551.4 926.17,1553.22 928.31,1555.07 930.46,1556.96 932.6,1558.89 934.74,1560.86 936.89,1562.88 939.03,1564.93 941.18,1567.03 943.32,1569.18 945.46,1571.37 947.61,1573.61 949.75,1575.9 951.9,1578.24 954.04,1580.64 956.19,1583.09 958.33,1585.6 960.47,1588.17 962.62,1590.81 964.76,1593.5 966.91,1596.26 969.05,1599.1 971.2,1602 973.34,1604.98 975.48,1608.03 977.63,1611.17 979.77,1614.39 981.92,1617.7 984.06,1621.09 986.21,1624.58 988.35,1628.17 990.49,1631.87 992.64,1635.67 994.78,1639.58 996.93,1643.61 999.07,1647.75 1001.21,1652.03 1003.36,1656.44 1005.5,1661 1007.65,1665.69 1009.79,1670.55 1011.94,1675.56 1014.08,1680.74 1016.22,1686.11 1018.37,1691.66 1020.51,1697.4 1022.66,1703.36 1024.8,1709.54 1026.95,1715.95 1029.09,1722.61 1031.23,1729.53 1033.38,1736.73 1035.52,1744.22 1037.67,1752.02 1039.81,1760.15 1041.95,1768.64 1044.1,1777.5 1046.24,1786.77 1048.39,1796.47 1050.53,1806.63 1052.68,1817.29 1053.97,1823.98" fill="none" stroke="#BDBDBD" stroke-width="1.3" stroke-linejoin="round" stroke-linecap="butt"/>
<polyline points="709.6,1461 711.74,1462.67 713.89,1464.36 716.03,1466.07 718.18,1467.79 720.32,1469.53 722.47,1471.29 724.61,1473.07 726.75,1474.86 728.9,1476.67 731.04,1478.51 733.19,1480.36 735.33,1482.23 737.47,1484.12 739.62,1486.03 741.76,1487.97 743.91,1489.92 746.05,1491.89 748.2,1493.89 750.34,1495.91 752.48,1497.95 754.63,1500.01 756.77,1502.1 758.92,1504.21 761.06,1506.34 763.21,1508.5 765.35,1510.68 767.49,1512.89 769.64,1515.12 771.78,1517.38 773.93,1519.67 776.07,1521.98 778.22,1524.32 780.36,1526.68 782.5,1529.08 784.65,1531.5 786.79,1533.96 788.94,1536.44 791.08,1538.96 793.22,1541.5 795.37,1544.08 797.51,1546.69 799.66,1549.33 801.8,1552 803.95,1554.71 806.09,1557.46 808.23,1560.24 810.38,1563.05 812.52,1565.91 814.67,1568.8 816.81,1571.72 818.96,1574.69 821.1,1577.7 823.24,1580.75 825.39,1583.84 827.53,1586.97 829.68,1590.14 831.82,1593.36 833.97,1596.63 836.11,1599.94 838.25,1603.29 840.4,1606.7 842.54,1610.15 844.69,1613.66 846.83,1617.21 848.97,1620.82 851.12,1624.48 853.26,1628.19 855.41,1631.97 857.55,1635.79 859.7,1639.68 861.84,1643.63 863.98,1647.63 866.13,1651.71 868.27,1655.84 870.42,1660.04 872.56,1664.31 874.71,1668.64 876.85,1673.05 878.99,1677.53 881.14,1682.08 883.28,1686.71 885.43,1691.42 887.57,1696.2 889.71,1701.07 891.86,1706.02 894,1711.06 896.15,1716.19 898.29,1721.41 900.44,1726.72 902.58,1732.12 904.72,1737.63 906.87,1743.23 909.01,1748.94 911.16,1754.76 913.3,1760.68 915.45,1766.72 917.59,1772.88 919.73,1779.15 921.88,1785.55 924.02,1792.07 926.17,1798.73 928.31,1805.52 930.46,1812.44 932.6,1819.51 933.93,1823.98" fill="none" stroke="#959595" stroke-width="1.3" stroke-linejoin="round" stroke-linecap="butt"/>
<line x1="709.6" y1="1793.4" x2="1136.29" y2="1793.4" stroke="#333333" stroke-width="1.5" stroke-linecap="butt"/>
<line x1="709.6" y1="1461" x2="1136.29" y2="1461" stroke="#C8102E" stroke-width="2.6" stroke-linecap="butt"/>
<line x1="692.4" y1="1461" x2="692.4" y2="1793.4" stroke="#333333" stroke-width="1.5" stroke-linecap="butt"/>
<line x1="682.2" y1="1793.4" x2="692.4" y2="1793.4" stroke="#333333" stroke-width="1.5" stroke-linecap="butt"/>
<text x="669.3" y="1791.2" font-size="19" text-anchor="middle" transform="rotate(-90 669.3 1791.2)" fill="#000">0.0</text>
<line x1="682.2" y1="1726.92" x2="692.4" y2="1726.92" stroke="#333333" stroke-width="1.5" stroke-linecap="butt"/>
<text x="669.3" y="1724.72" font-size="19" text-anchor="middle" transform="rotate(-90 669.3 1724.72)" fill="#000">0.2</text>
<line x1="682.2" y1="1660.44" x2="692.4" y2="1660.44" stroke="#333333" stroke-width="1.5" stroke-linecap="butt"/>
<text x="669.3" y="1658.24" font-size="19" text-anchor="middle" transform="rotate(-90 669.3 1658.24)" fill="#000">0.4</text>
<line x1="682.2" y1="1593.96" x2="692.4" y2="1593.96" stroke="#333333" stroke-width="1.5" stroke-linecap="butt"/>
<text x="669.3" y="1591.76" font-size="19" text-anchor="middle" transform="rotate(-90 669.3 1591.76)" fill="#000">0.6</text>
<line x1="682.2" y1="1527.48" x2="692.4" y2="1527.48" stroke="#333333" stroke-width="1.5" stroke-linecap="butt"/>
<text x="669.3" y="1525.28" font-size="19" text-anchor="middle" transform="rotate(-90 669.3 1525.28)" fill="#000">0.8</text>
<line x1="682.2" y1="1461" x2="692.4" y2="1461" stroke="#333333" stroke-width="1.5" stroke-linecap="butt"/>
<text x="669.3" y="1458.8" font-size="19" text-anchor="middle" transform="rotate(-90 669.3 1458.8)" fill="#000">1.0</text>
<line x1="709.6" y1="1824" x2="1140.6" y2="1824" stroke="#333333" stroke-width="1.5" stroke-linecap="butt"/>
<line x1="709.6" y1="1824" x2="709.6" y2="1833.8" stroke="#333333" stroke-width="1.5" stroke-linecap="butt"/>
<text x="711.1" y="1859" font-size="19" text-anchor="middle" fill="#000">0.0</text>
<line x1="795.8" y1="1824" x2="795.8" y2="1833.8" stroke="#333333" stroke-width="1.5" stroke-linecap="butt"/>
<text x="797.3" y="1859" font-size="19" text-anchor="middle" fill="#000">0.2</text>
<line x1="882" y1="1824" x2="882" y2="1833.8" stroke="#333333" stroke-width="1.5" stroke-linecap="butt"/>
<text x="883.5" y="1859" font-size="19" text-anchor="middle" fill="#000">0.4</text>
<line x1="968.2" y1="1824" x2="968.2" y2="1833.8" stroke="#333333" stroke-width="1.5" stroke-linecap="butt"/>
<text x="969.7" y="1859" font-size="19" text-anchor="middle" fill="#000">0.6</text>
<line x1="1054.4" y1="1824" x2="1054.4" y2="1833.8" stroke="#333333" stroke-width="1.5" stroke-linecap="butt"/>
<text x="1055.9" y="1859" font-size="19" text-anchor="middle" fill="#000">0.8</text>
<line x1="1140.6" y1="1824" x2="1140.6" y2="1833.8" stroke="#333333" stroke-width="1.5" stroke-linecap="butt"/>
<text x="1142.1" y="1859" font-size="19" text-anchor="middle" fill="#000">1.0</text>
<text x="936.2" y="1882.4" font-size="18.8" text-anchor="middle" fill="#000">High Risk Threshold</text>
<line x1="713.87" y1="1902.3" x2="1136.29" y2="1902.3" stroke="#333333" stroke-width="1.5" stroke-linecap="butt"/>
<line x1="713.87" y1="1902.3" x2="713.87" y2="1912.1" stroke="#333333" stroke-width="1.5" stroke-linecap="butt"/>
<text x="716.87" y="1937.2" font-size="19" text-anchor="middle" fill="#000">1:100</text>
<line x1="795.8" y1="1902.3" x2="795.8" y2="1912.1" stroke="#333333" stroke-width="1.5" stroke-linecap="butt"/>
<text x="797.3" y="1937.2" font-size="19" text-anchor="middle" fill="#000">1:4</text>
<line x1="882" y1="1902.3" x2="882" y2="1912.1" stroke="#333333" stroke-width="1.5" stroke-linecap="butt"/>
<text x="883.5" y="1937.2" font-size="19" text-anchor="middle" fill="#000">2:3</text>
<line x1="968.2" y1="1902.3" x2="968.2" y2="1912.1" stroke="#333333" stroke-width="1.5" stroke-linecap="butt"/>
<text x="969.7" y="1937.2" font-size="19" text-anchor="middle" fill="#000">3:2</text>
<line x1="1054.4" y1="1902.3" x2="1054.4" y2="1912.1" stroke="#333333" stroke-width="1.5" stroke-linecap="butt"/>
<text x="1055.9" y="1937.2" font-size="19" text-anchor="middle" fill="#000">4:1</text>
<line x1="1136.29" y1="1902.3" x2="1136.29" y2="1912.1" stroke="#333333" stroke-width="1.5" stroke-linecap="butt"/>
<text x="1137.79" y="1937.2" font-size="19" text-anchor="middle" fill="#000">100:1</text>
<text x="935.1" y="1958" font-size="18.8" text-anchor="middle" fill="#000">Cost:Benefit Ratio</text>
<text x="630" y="1621" font-size="18.8" text-anchor="middle" transform="rotate(-90 630 1621)" fill="#000">Standardized Net Benefit</text>
<rect x="1046.5" y="1447.2" width="110.7" height="77.9" stroke="#444444" stroke-width="1.4" fill="#fff"/>
<line x1="1061" y1="1466.6" x2="1091.5" y2="1466.6" stroke="#C8102E" stroke-width="2.6" stroke-linecap="butt"/>
<line x1="1061" y1="1486" x2="1091.5" y2="1486" stroke="#BEBEBE" stroke-width="1.6" stroke-linecap="butt"/>
<line x1="1061" y1="1505.6" x2="1091.5" y2="1505.6" stroke="#333333" stroke-width="1.6" stroke-linecap="butt"/>
<text x="1105.8" y="1472.4" font-size="18.7" text-anchor="start" fill="#000">model</text>
<text x="1105.8" y="1491.8" font-size="18.7" text-anchor="start" fill="#000">All</text>
<text x="1105.8" y="1511.3" font-size="18.7" text-anchor="start" fill="#000">None</text>
<text x="0" y="0" font-size="50" font-weight="bold" fill="#000" transform="translate(1284.56 1407.79) scale(1.0176 1.0600)">G</text>
<clipPath id="gclip"><rect x="1276.5" y="1451.5" width="474.5" height="414.6"/></clipPath>
<polyline points="1276.5,1866.1 1751,1451.5" fill="none" stroke="#000" stroke-width="1.5" stroke-linejoin="round" stroke-linecap="butt" stroke-dasharray="6,5" clip-path="url(#gclip)"/>
<polyline points="1294.94,1850.1 1303.49,1833.62 1338.35,1802.19 1382.2,1762.71 1430,1720.16 1513.75,1647.72 1601.45,1573.36 1667.22,1518.55 1711.08,1484.05 1733,1469.1" fill="none" stroke="#000" stroke-width="1.5" stroke-linejoin="round" stroke-linecap="butt"/>
<polyline points="1294.94,1850.1 1303.49,1834.77 1338.35,1803.34 1382.2,1763.86 1430,1721.31 1513.75,1648.87 1601.45,1574.12 1667.22,1519.7 1711.08,1485.2 1733,1470.63" fill="none" stroke="#000" stroke-width="1" stroke-linejoin="round" stroke-linecap="butt" stroke-dasharray="1.5,3"/>
<line x1="1292.3" y1="1451.5" x2="1292.3" y2="1459.2" stroke="#A0A0A0" stroke-width="1" stroke-linecap="butt"/>
<line x1="1293.5" y1="1451.5" x2="1293.5" y2="1459.2" stroke="#A0A0A0" stroke-width="1" stroke-linecap="butt"/>
<line x1="1296.8" y1="1451.5" x2="1296.8" y2="1459.2" stroke="#A0A0A0" stroke-width="1" stroke-linecap="butt"/>
<line x1="1731" y1="1451.5" x2="1731" y2="1459.5" stroke="#A8A8A8" stroke-width="0.9" stroke-linecap="butt"/>
<line x1="1732.3" y1="1451.5" x2="1732.3" y2="1459.5" stroke="#A8A8A8" stroke-width="0.9" stroke-linecap="butt"/>
<line x1="1733.6" y1="1451.5" x2="1733.6" y2="1459.5" stroke="#A8A8A8" stroke-width="0.9" stroke-linecap="butt"/>
<line x1="1736.3" y1="1451.5" x2="1736.3" y2="1459.5" stroke="#A8A8A8" stroke-width="0.9" stroke-linecap="butt"/>
<rect x="1276.5" y="1451.5" width="474.5" height="414.6" stroke="#000" stroke-width="1.5" fill="none"/>
<line x1="1266.1" y1="1850.1" x2="1276.5" y2="1850.1" stroke="#000" stroke-width="1.5" stroke-linecap="butt"/>
<text x="1253" y="1848.8" font-size="18.5" text-anchor="middle" transform="rotate(-90 1253 1848.8)" fill="#000">0.0</text>
<line x1="1294.5" y1="1866.1" x2="1294.5" y2="1876.2" stroke="#000" stroke-width="1.5" stroke-linecap="butt"/>
<text x="1295.5" y="1901.5" font-size="18.5" text-anchor="middle" fill="#000">0.0</text>
<line x1="1266.1" y1="1773.44" x2="1276.5" y2="1773.44" stroke="#000" stroke-width="1.5" stroke-linecap="butt"/>
<text x="1253" y="1772.14" font-size="18.5" text-anchor="middle" transform="rotate(-90 1253 1772.14)" fill="#000">0.2</text>
<line x1="1382.2" y1="1866.1" x2="1382.2" y2="1876.2" stroke="#000" stroke-width="1.5" stroke-linecap="butt"/>
<text x="1383.2" y="1901.5" font-size="18.5" text-anchor="middle" fill="#000">0.2</text>
<line x1="1266.1" y1="1696.78" x2="1276.5" y2="1696.78" stroke="#000" stroke-width="1.5" stroke-linecap="butt"/>
<text x="1253" y="1695.48" font-size="18.5" text-anchor="middle" transform="rotate(-90 1253 1695.48)" fill="#000">0.4</text>
<line x1="1469.9" y1="1866.1" x2="1469.9" y2="1876.2" stroke="#000" stroke-width="1.5" stroke-linecap="butt"/>
<text x="1470.9" y="1901.5" font-size="18.5" text-anchor="middle" fill="#000">0.4</text>
<line x1="1266.1" y1="1620.12" x2="1276.5" y2="1620.12" stroke="#000" stroke-width="1.5" stroke-linecap="butt"/>
<text x="1253" y="1618.82" font-size="18.5" text-anchor="middle" transform="rotate(-90 1253 1618.82)" fill="#000">0.6</text>
<line x1="1557.6" y1="1866.1" x2="1557.6" y2="1876.2" stroke="#000" stroke-width="1.5" stroke-linecap="butt"/>
<text x="1558.6" y="1901.5" font-size="18.5" text-anchor="middle" fill="#000">0.6</text>
<line x1="1266.1" y1="1543.46" x2="1276.5" y2="1543.46" stroke="#000" stroke-width="1.5" stroke-linecap="butt"/>
<text x="1253" y="1542.16" font-size="18.5" text-anchor="middle" transform="rotate(-90 1253 1542.16)" fill="#000">0.8</text>
<line x1="1645.3" y1="1866.1" x2="1645.3" y2="1876.2" stroke="#000" stroke-width="1.5" stroke-linecap="butt"/>
<text x="1646.3" y="1901.5" font-size="18.5" text-anchor="middle" fill="#000">0.8</text>
<line x1="1266.1" y1="1466.8" x2="1276.5" y2="1466.8" stroke="#000" stroke-width="1.5" stroke-linecap="butt"/>
<text x="1253" y="1465.5" font-size="18.5" text-anchor="middle" transform="rotate(-90 1253 1465.5)" fill="#000">1.0</text>
<line x1="1733" y1="1866.1" x2="1733" y2="1876.2" stroke="#000" stroke-width="1.5" stroke-linecap="butt"/>
<text x="1734" y="1901.5" font-size="18.5" text-anchor="middle" fill="#000">1.0</text>
<text x="1524.6" y="1941.4" font-size="18.85" text-anchor="middle" fill="#000">Predicted Pr{status=1}</text>
<text x="1213.1" y="1650.2" font-size="18.5" text-anchor="middle" transform="rotate(-90 1213.1 1650.2)" fill="#000">Actual Probability</text>
<text x="1275.8" y="1961" font-size="18.85" text-anchor="start" fill="#000">B= 40 repetitions, boot</text>
<clipPath id="gclip2"><rect x="1200" y="1940" width="592.6" height="40"/></clipPath>
<text x="1569" y="1961" font-size="18.85" text-anchor="start" fill="#000" clip-path="url(#gclip2)">Mean absolute error=0.003</text>
<line x1="1550.4" y1="1747.5" x2="1580.8" y2="1747.5" stroke="#000" stroke-width="1.2" stroke-linecap="butt" stroke-dasharray="1.5,3"/>
<line x1="1550.4" y1="1767.5" x2="1580.8" y2="1767.5" stroke="#000" stroke-width="1.6" stroke-linecap="butt"/>
<line x1="1550.4" y1="1787.4" x2="1580.8" y2="1787.4" stroke="#000" stroke-width="1.5" stroke-linecap="butt" stroke-dasharray="4,3.9"/>
<text x="1596.8" y="1753.4" font-size="18.5" text-anchor="start" fill="#000">Apparent</text>
<text x="1596.8" y="1773.4" font-size="18.5" text-anchor="start" fill="#000">Bias−corrected</text>
<text x="1596.8" y="1792.8" font-size="18.5" text-anchor="start" fill="#000">Ideal</text>
<text x="0" y="0" font-size="50" font-weight="bold" fill="#000" transform="translate(113.94 2041.01) scale(1.0759 1.0286)">H</text>
<text x="83.4" y="2097.3" font-size="18.85" text-anchor="start" fill="#000">Points</text>
<text x="83.4" y="2149.8" font-size="18.85" text-anchor="start" fill="#000">Itgb5</text>
<text x="83.4" y="2203.8" font-size="18.85" text-anchor="start" fill="#000">Tpm1</text>
<text x="83.4" y="2258.6" font-size="18.85" text-anchor="start" fill="#000">Sfrp1</text>
<text x="83.4" y="2314.1" font-size="18.85" text-anchor="start" fill="#000">Notch1</text>
<text x="83.4" y="2366.4" font-size="18.85" text-anchor="start" fill="#000">Igfbp2</text>
<text x="83.4" y="2422.6" font-size="18.85" text-anchor="start" fill="#000">Total Points</text>
<text x="83.4" y="2475" font-size="18.85" text-anchor="start" fill="#000">Prob of Expanded Skin</text>
<line x1="495.2" y1="2091.3" x2="1669.2" y2="2091.3" stroke="#444444" stroke-width="1.5" stroke-linecap="butt"/>
<line x1="495.2" y1="2091.3" x2="495.2" y2="2086.3" stroke="#444444" stroke-width="1.5" stroke-linecap="butt"/>
<text x="497.64" y="2079.4" font-size="18.85" text-anchor="middle" fill="#000">0</text>
<line x1="524.55" y1="2091.3" x2="524.55" y2="2088.3" stroke="#444444" stroke-width="1.5" stroke-linecap="butt"/>
<line x1="553.9" y1="2091.3" x2="553.9" y2="2088.3" stroke="#444444" stroke-width="1.5" stroke-linecap="butt"/>
<line x1="583.25" y1="2091.3" x2="583.25" y2="2088.3" stroke="#444444" stroke-width="1.5" stroke-linecap="butt"/>
<line x1="612.6" y1="2091.3" x2="612.6" y2="2086.3" stroke="#444444" stroke-width="1.5" stroke-linecap="butt"/>
<text x="615.99" y="2079.4" font-size="18.85" text-anchor="middle" fill="#000">10</text>
<line x1="641.95" y1="2091.3" x2="641.95" y2="2088.3" stroke="#444444" stroke-width="1.5" stroke-linecap="butt"/>
<line x1="671.3" y1="2091.3" x2="671.3" y2="2088.3" stroke="#444444" stroke-width="1.5" stroke-linecap="butt"/>
<line x1="700.65" y1="2091.3" x2="700.65" y2="2088.3" stroke="#444444" stroke-width="1.5" stroke-linecap="butt"/>
<line x1="730" y1="2091.3" x2="730" y2="2086.3" stroke="#444444" stroke-width="1.5" stroke-linecap="butt"/>
<text x="733.39" y="2079.4" font-size="18.85" text-anchor="middle" fill="#000">20</text>
<line x1="759.35" y1="2091.3" x2="759.35" y2="2088.3" stroke="#444444" stroke-width="1.5" stroke-linecap="butt"/>
<line x1="788.7" y1="2091.3" x2="788.7" y2="2088.3" stroke="#444444" stroke-width="1.5" stroke-linecap="butt"/>
<line x1="818.05" y1="2091.3" x2="818.05" y2="2088.3" stroke="#444444" stroke-width="1.5" stroke-linecap="butt"/>
<line x1="847.4" y1="2091.3" x2="847.4" y2="2086.3" stroke="#444444" stroke-width="1.5" stroke-linecap="butt"/>
<text x="850.79" y="2079.4" font-size="18.85" text-anchor="middle" fill="#000">30</text>
<line x1="876.75" y1="2091.3" x2="876.75" y2="2088.3" stroke="#444444" stroke-width="1.5" stroke-linecap="butt"/>
<line x1="906.1" y1="2091.3" x2="906.1" y2="2088.3" stroke="#444444" stroke-width="1.5" stroke-linecap="butt"/>
<line x1="935.45" y1="2091.3" x2="935.45" y2="2088.3" stroke="#444444" stroke-width="1.5" stroke-linecap="butt"/>
<line x1="964.8" y1="2091.3" x2="964.8" y2="2086.3" stroke="#444444" stroke-width="1.5" stroke-linecap="butt"/>
<text x="968.19" y="2079.4" font-size="18.85" text-anchor="middle" fill="#000">40</text>
<line x1="994.15" y1="2091.3" x2="994.15" y2="2088.3" stroke="#444444" stroke-width="1.5" stroke-linecap="butt"/>
<line x1="1023.5" y1="2091.3" x2="1023.5" y2="2088.3" stroke="#444444" stroke-width="1.5" stroke-linecap="butt"/>
<line x1="1052.85" y1="2091.3" x2="1052.85" y2="2088.3" stroke="#444444" stroke-width="1.5" stroke-linecap="butt"/>
<line x1="1082.2" y1="2091.3" x2="1082.2" y2="2086.3" stroke="#444444" stroke-width="1.5" stroke-linecap="butt"/>
<text x="1085.59" y="2079.4" font-size="18.85" text-anchor="middle" fill="#000">50</text>
<line x1="1111.55" y1="2091.3" x2="1111.55" y2="2088.3" stroke="#444444" stroke-width="1.5" stroke-linecap="butt"/>
<line x1="1140.9" y1="2091.3" x2="1140.9" y2="2088.3" stroke="#444444" stroke-width="1.5" stroke-linecap="butt"/>
<line x1="1170.25" y1="2091.3" x2="1170.25" y2="2088.3" stroke="#444444" stroke-width="1.5" stroke-linecap="butt"/>
<line x1="1199.6" y1="2091.3" x2="1199.6" y2="2086.3" stroke="#444444" stroke-width="1.5" stroke-linecap="butt"/>
<text x="1202.99" y="2079.4" font-size="18.85" text-anchor="middle" fill="#000">60</text>
<line x1="1228.95" y1="2091.3" x2="1228.95" y2="2088.3" stroke="#444444" stroke-width="1.5" stroke-linecap="butt"/>
<line x1="1258.3" y1="2091.3" x2="1258.3" y2="2088.3" stroke="#444444" stroke-width="1.5" stroke-linecap="butt"/>
<line x1="1287.65" y1="2091.3" x2="1287.65" y2="2088.3" stroke="#444444" stroke-width="1.5" stroke-linecap="butt"/>
<line x1="1317" y1="2091.3" x2="1317" y2="2086.3" stroke="#444444" stroke-width="1.5" stroke-linecap="butt"/>
<text x="1320.39" y="2079.4" font-size="18.85" text-anchor="middle" fill="#000">70</text>
<line x1="1346.35" y1="2091.3" x2="1346.35" y2="2088.3" stroke="#444444" stroke-width="1.5" stroke-linecap="butt"/>
<line x1="1375.7" y1="2091.3" x2="1375.7" y2="2088.3" stroke="#444444" stroke-width="1.5" stroke-linecap="butt"/>
<line x1="1405.05" y1="2091.3" x2="1405.05" y2="2088.3" stroke="#444444" stroke-width="1.5" stroke-linecap="butt"/>
<line x1="1434.4" y1="2091.3" x2="1434.4" y2="2086.3" stroke="#444444" stroke-width="1.5" stroke-linecap="butt"/>
<text x="1437.79" y="2079.4" font-size="18.85" text-anchor="middle" fill="#000">80</text>
<line x1="1463.75" y1="2091.3" x2="1463.75" y2="2088.3" stroke="#444444" stroke-width="1.5" stroke-linecap="butt"/>
<line x1="1493.1" y1="2091.3" x2="1493.1" y2="2088.3" stroke="#444444" stroke-width="1.5" stroke-linecap="butt"/>
<line x1="1522.45" y1="2091.3" x2="1522.45" y2="2088.3" stroke="#444444" stroke-width="1.5" stroke-linecap="butt"/>
<line x1="1551.8" y1="2091.3" x2="1551.8" y2="2086.3" stroke="#444444" stroke-width="1.5" stroke-linecap="butt"/>
<text x="1555.19" y="2079.4" font-size="18.85" text-anchor="middle" fill="#000">90</text>
<line x1="1581.15" y1="2091.3" x2="1581.15" y2="2088.3" stroke="#444444" stroke-width="1.5" stroke-linecap="butt"/>
<line x1="1610.5" y1="2091.3" x2="1610.5" y2="2088.3" stroke="#444444" stroke-width="1.5" stroke-linecap="butt"/>
<line x1="1639.85" y1="2091.3" x2="1639.85" y2="2088.3" stroke="#444444" stroke-width="1.5" stroke-linecap="butt"/>
<line x1="1669.2" y1="2091.3" x2="1669.2" y2="2086.3" stroke="#444444" stroke-width="1.5" stroke-linecap="butt"/>
<text x="1673.53" y="2079.4" font-size="18.85" text-anchor="middle" fill="#000">100</text>
<line x1="495.2" y1="2145.5" x2="974.96" y2="2145.5" stroke="#444444" stroke-width="1.5" stroke-linecap="butt"/>
<line x1="495.2" y1="2145.5" x2="495.2" y2="2150.5" stroke="#444444" stroke-width="1.5" stroke-linecap="butt"/>
<line x1="555.17" y1="2145.5" x2="555.17" y2="2150.5" stroke="#444444" stroke-width="1.5" stroke-linecap="butt"/>
<line x1="615.14" y1="2145.5" x2="615.14" y2="2150.5" stroke="#444444" stroke-width="1.5" stroke-linecap="butt"/>
<line x1="675.11" y1="2145.5" x2="675.11" y2="2150.5" stroke="#444444" stroke-width="1.5" stroke-linecap="butt"/>
<line x1="735.08" y1="2145.5" x2="735.08" y2="2150.5" stroke="#444444" stroke-width="1.5" stroke-linecap="butt"/>
<line x1="795.05" y1="2145.5" x2="795.05" y2="2150.5" stroke="#444444" stroke-width="1.5" stroke-linecap="butt"/>
<line x1="855.02" y1="2145.5" x2="855.02" y2="2150.5" stroke="#444444" stroke-width="1.5" stroke-linecap="butt"/>
<line x1="914.99" y1="2145.5" x2="914.99" y2="2150.5" stroke="#444444" stroke-width="1.5" stroke-linecap="butt"/>
<line x1="974.96" y1="2145.5" x2="974.96" y2="2150.5" stroke="#444444" stroke-width="1.5" stroke-linecap="butt"/>
<text x="499.06" y="2166.7" font-size="18.85" text-anchor="middle" fill="#000">9.2</text>
<text x="559.03" y="2166.7" font-size="18.85" text-anchor="middle" fill="#000">9.4</text>
<text x="619" y="2166.7" font-size="18.85" text-anchor="middle" fill="#000">9.6</text>
<text x="678.97" y="2166.7" font-size="18.85" text-anchor="middle" fill="#000">9.8</text>
<text x="738.47" y="2166.7" font-size="18.85" text-anchor="middle" fill="#000">10</text>
<text x="799.85" y="2166.7" font-size="18.85" text-anchor="middle" fill="#000">10.2</text>
<text x="859.82" y="2166.7" font-size="18.85" text-anchor="middle" fill="#000">10.4</text>
<text x="919.79" y="2166.7" font-size="18.85" text-anchor="middle" fill="#000">10.6</text>
<text x="979.76" y="2166.7" font-size="18.85" text-anchor="middle" fill="#000">10.8</text>
<line x1="495.2" y1="2200.7" x2="815.41" y2="2200.7" stroke="#444444" stroke-width="1.5" stroke-linecap="butt"/>
<line x1="495.2" y1="2200.7" x2="495.2" y2="2205.7" stroke="#444444" stroke-width="1.5" stroke-linecap="butt"/>
<line x1="524.31" y1="2200.7" x2="524.31" y2="2205.7" stroke="#444444" stroke-width="1.5" stroke-linecap="butt"/>
<line x1="553.42" y1="2200.7" x2="553.42" y2="2205.7" stroke="#444444" stroke-width="1.5" stroke-linecap="butt"/>
<line x1="582.53" y1="2200.7" x2="582.53" y2="2205.7" stroke="#444444" stroke-width="1.5" stroke-linecap="butt"/>
<line x1="611.64" y1="2200.7" x2="611.64" y2="2205.7" stroke="#444444" stroke-width="1.5" stroke-linecap="butt"/>
<line x1="640.75" y1="2200.7" x2="640.75" y2="2205.7" stroke="#444444" stroke-width="1.5" stroke-linecap="butt"/>
<line x1="669.86" y1="2200.7" x2="669.86" y2="2205.7" stroke="#444444" stroke-width="1.5" stroke-linecap="butt"/>
<line x1="698.97" y1="2200.7" x2="698.97" y2="2205.7" stroke="#444444" stroke-width="1.5" stroke-linecap="butt"/>
<line x1="728.08" y1="2200.7" x2="728.08" y2="2205.7" stroke="#444444" stroke-width="1.5" stroke-linecap="butt"/>
<line x1="757.19" y1="2200.7" x2="757.19" y2="2205.7" stroke="#444444" stroke-width="1.5" stroke-linecap="butt"/>
<line x1="786.3" y1="2200.7" x2="786.3" y2="2205.7" stroke="#444444" stroke-width="1.5" stroke-linecap="butt"/>
<line x1="815.41" y1="2200.7" x2="815.41" y2="2205.7" stroke="#444444" stroke-width="1.5" stroke-linecap="butt"/>
<text x="498.59" y="2220.9" font-size="18.85" text-anchor="middle" fill="#000">15</text>
<text x="558.22" y="2220.9" font-size="18.85" text-anchor="middle" fill="#000">14.6</text>
<text x="616.44" y="2220.9" font-size="18.85" text-anchor="middle" fill="#000">14.2</text>
<text x="674.66" y="2220.9" font-size="18.85" text-anchor="middle" fill="#000">13.8</text>
<text x="732.88" y="2220.9" font-size="18.85" text-anchor="middle" fill="#000">13.4</text>
<text x="789.69" y="2220.9" font-size="18.85" text-anchor="middle" fill="#000">13</text>
<line x1="495.2" y1="2253.9" x2="641.22" y2="2253.9" stroke="#444444" stroke-width="1.5" stroke-linecap="butt"/>
<line x1="495.2" y1="2253.9" x2="495.2" y2="2258.9" stroke="#444444" stroke-width="1.5" stroke-linecap="butt"/>
<line x1="505.63" y1="2253.9" x2="505.63" y2="2258.9" stroke="#444444" stroke-width="1.5" stroke-linecap="butt"/>
<line x1="516.06" y1="2253.9" x2="516.06" y2="2258.9" stroke="#444444" stroke-width="1.5" stroke-linecap="butt"/>
<line x1="526.49" y1="2253.9" x2="526.49" y2="2258.9" stroke="#444444" stroke-width="1.5" stroke-linecap="butt"/>
<line x1="536.92" y1="2253.9" x2="536.92" y2="2258.9" stroke="#444444" stroke-width="1.5" stroke-linecap="butt"/>
<line x1="547.35" y1="2253.9" x2="547.35" y2="2258.9" stroke="#444444" stroke-width="1.5" stroke-linecap="butt"/>
<line x1="557.78" y1="2253.9" x2="557.78" y2="2258.9" stroke="#444444" stroke-width="1.5" stroke-linecap="butt"/>
<line x1="568.21" y1="2253.9" x2="568.21" y2="2258.9" stroke="#444444" stroke-width="1.5" stroke-linecap="butt"/>
<line x1="578.64" y1="2253.9" x2="578.64" y2="2258.9" stroke="#444444" stroke-width="1.5" stroke-linecap="butt"/>
<line x1="589.07" y1="2253.9" x2="589.07" y2="2258.9" stroke="#444444" stroke-width="1.5" stroke-linecap="butt"/>
<line x1="599.5" y1="2253.9" x2="599.5" y2="2258.9" stroke="#444444" stroke-width="1.5" stroke-linecap="butt"/>
<line x1="609.93" y1="2253.9" x2="609.93" y2="2258.9" stroke="#444444" stroke-width="1.5" stroke-linecap="butt"/>
<line x1="620.36" y1="2253.9" x2="620.36" y2="2258.9" stroke="#444444" stroke-width="1.5" stroke-linecap="butt"/>
<line x1="630.79" y1="2253.9" x2="630.79" y2="2258.9" stroke="#444444" stroke-width="1.5" stroke-linecap="butt"/>
<line x1="641.22" y1="2253.9" x2="641.22" y2="2258.9" stroke="#444444" stroke-width="1.5" stroke-linecap="butt"/>
<text x="499.06" y="2275" font-size="18.85" text-anchor="middle" fill="#000">9.4</text>
<text x="529.88" y="2275" font-size="18.85" text-anchor="middle" fill="#000">10</text>
<text x="573.01" y="2275" font-size="18.85" text-anchor="middle" fill="#000">10.8</text>
<text x="614.73" y="2275" font-size="18.85" text-anchor="middle" fill="#000">11.6</text>
<line x1="495.2" y1="2308.6" x2="859.25" y2="2308.6" stroke="#444444" stroke-width="1.5" stroke-linecap="butt"/>
<line x1="495.2" y1="2308.6" x2="495.2" y2="2313.6" stroke="#444444" stroke-width="1.5" stroke-linecap="butt"/>
<line x1="535.65" y1="2308.6" x2="535.65" y2="2313.6" stroke="#444444" stroke-width="1.5" stroke-linecap="butt"/>
<line x1="576.1" y1="2308.6" x2="576.1" y2="2313.6" stroke="#444444" stroke-width="1.5" stroke-linecap="butt"/>
<line x1="616.55" y1="2308.6" x2="616.55" y2="2313.6" stroke="#444444" stroke-width="1.5" stroke-linecap="butt"/>
<line x1="657" y1="2308.6" x2="657" y2="2313.6" stroke="#444444" stroke-width="1.5" stroke-linecap="butt"/>
<line x1="697.45" y1="2308.6" x2="697.45" y2="2313.6" stroke="#444444" stroke-width="1.5" stroke-linecap="butt"/>
<line x1="737.9" y1="2308.6" x2="737.9" y2="2313.6" stroke="#444444" stroke-width="1.5" stroke-linecap="butt"/>
<line x1="778.35" y1="2308.6" x2="778.35" y2="2313.6" stroke="#444444" stroke-width="1.5" stroke-linecap="butt"/>
<line x1="818.8" y1="2308.6" x2="818.8" y2="2313.6" stroke="#444444" stroke-width="1.5" stroke-linecap="butt"/>
<line x1="859.25" y1="2308.6" x2="859.25" y2="2313.6" stroke="#444444" stroke-width="1.5" stroke-linecap="butt"/>
<text x="499.06" y="2330.1" font-size="18.85" text-anchor="middle" fill="#000">6.2</text>
<text x="539.51" y="2330.1" font-size="18.85" text-anchor="middle" fill="#000">6.4</text>
<text x="579.96" y="2330.1" font-size="18.85" text-anchor="middle" fill="#000">6.6</text>
<text x="620.41" y="2330.1" font-size="18.85" text-anchor="middle" fill="#000">6.8</text>
<text x="659.44" y="2330.1" font-size="18.85" text-anchor="middle" fill="#000">7</text>
<text x="701.31" y="2330.1" font-size="18.85" text-anchor="middle" fill="#000">7.2</text>
<text x="741.76" y="2330.1" font-size="18.85" text-anchor="middle" fill="#000">7.4</text>
<text x="782.21" y="2330.1" font-size="18.85" text-anchor="middle" fill="#000">7.6</text>
<text x="822.66" y="2330.1" font-size="18.85" text-anchor="middle" fill="#000">7.8</text>
<text x="861.69" y="2330.1" font-size="18.85" text-anchor="middle" fill="#000">8</text>
<line x1="495.2" y1="2362.6" x2="1668.8" y2="2362.6" stroke="#444444" stroke-width="1.5" stroke-linecap="butt"/>
<line x1="495.2" y1="2362.6" x2="495.2" y2="2367.6" stroke="#444444" stroke-width="1.5" stroke-linecap="butt"/>
<line x1="625.6" y1="2362.6" x2="625.6" y2="2367.6" stroke="#444444" stroke-width="1.5" stroke-linecap="butt"/>
<line x1="756" y1="2362.6" x2="756" y2="2367.6" stroke="#444444" stroke-width="1.5" stroke-linecap="butt"/>
<line x1="886.4" y1="2362.6" x2="886.4" y2="2367.6" stroke="#444444" stroke-width="1.5" stroke-linecap="butt"/>
<line x1="1016.8" y1="2362.6" x2="1016.8" y2="2367.6" stroke="#444444" stroke-width="1.5" stroke-linecap="butt"/>
<line x1="1147.2" y1="2362.6" x2="1147.2" y2="2367.6" stroke="#444444" stroke-width="1.5" stroke-linecap="butt"/>
<line x1="1277.6" y1="2362.6" x2="1277.6" y2="2367.6" stroke="#444444" stroke-width="1.5" stroke-linecap="butt"/>
<line x1="1408" y1="2362.6" x2="1408" y2="2367.6" stroke="#444444" stroke-width="1.5" stroke-linecap="butt"/>
<line x1="1538.4" y1="2362.6" x2="1538.4" y2="2367.6" stroke="#444444" stroke-width="1.5" stroke-linecap="butt"/>
<line x1="1668.8" y1="2362.6" x2="1668.8" y2="2367.6" stroke="#444444" stroke-width="1.5" stroke-linecap="butt"/>
<text x="497.64" y="2384.3" font-size="18.85" text-anchor="middle" fill="#000">9</text>
<text x="629.46" y="2384.3" font-size="18.85" text-anchor="middle" fill="#000">9.5</text>
<text x="759.39" y="2384.3" font-size="18.85" text-anchor="middle" fill="#000">10</text>
<text x="891.2" y="2384.3" font-size="18.85" text-anchor="middle" fill="#000">10.5</text>
<text x="1020.19" y="2384.3" font-size="18.85" text-anchor="middle" fill="#000">11</text>
<text x="1152" y="2384.3" font-size="18.85" text-anchor="middle" fill="#000">11.5</text>
<text x="1280.99" y="2384.3" font-size="18.85" text-anchor="middle" fill="#000">12</text>
<text x="1412.8" y="2384.3" font-size="18.85" text-anchor="middle" fill="#000">12.5</text>
<text x="1541.79" y="2384.3" font-size="18.85" text-anchor="middle" fill="#000">13</text>
<text x="1673.6" y="2384.3" font-size="18.85" text-anchor="middle" fill="#000">13.5</text>
<line x1="495.2" y1="2416.9" x2="1668.7" y2="2416.9" stroke="#444444" stroke-width="1.5" stroke-linecap="butt"/>
<line x1="495.2" y1="2416.9" x2="495.2" y2="2421.9" stroke="#444444" stroke-width="1.5" stroke-linecap="butt"/>
<text x="497.64" y="2438" font-size="18.85" text-anchor="middle" fill="#000">0</text>
<line x1="518.67" y1="2416.9" x2="518.67" y2="2419.9" stroke="#444444" stroke-width="1.5" stroke-linecap="butt"/>
<line x1="542.14" y1="2416.9" x2="542.14" y2="2419.9" stroke="#444444" stroke-width="1.5" stroke-linecap="butt"/>
<line x1="565.61" y1="2416.9" x2="565.61" y2="2419.9" stroke="#444444" stroke-width="1.5" stroke-linecap="butt"/>
<line x1="589.08" y1="2416.9" x2="589.08" y2="2419.9" stroke="#444444" stroke-width="1.5" stroke-linecap="butt"/>
<line x1="612.55" y1="2416.9" x2="612.55" y2="2421.9" stroke="#444444" stroke-width="1.5" stroke-linecap="butt"/>
<text x="615.94" y="2438" font-size="18.85" text-anchor="middle" fill="#000">20</text>
<line x1="636.02" y1="2416.9" x2="636.02" y2="2419.9" stroke="#444444" stroke-width="1.5" stroke-linecap="butt"/>
<line x1="659.49" y1="2416.9" x2="659.49" y2="2419.9" stroke="#444444" stroke-width="1.5" stroke-linecap="butt"/>
<line x1="682.96" y1="2416.9" x2="682.96" y2="2419.9" stroke="#444444" stroke-width="1.5" stroke-linecap="butt"/>
<line x1="706.43" y1="2416.9" x2="706.43" y2="2419.9" stroke="#444444" stroke-width="1.5" stroke-linecap="butt"/>
<line x1="729.9" y1="2416.9" x2="729.9" y2="2421.9" stroke="#444444" stroke-width="1.5" stroke-linecap="butt"/>
<text x="733.29" y="2438" font-size="18.85" text-anchor="middle" fill="#000">40</text>
<line x1="753.37" y1="2416.9" x2="753.37" y2="2419.9" stroke="#444444" stroke-width="1.5" stroke-linecap="butt"/>
<line x1="776.84" y1="2416.9" x2="776.84" y2="2419.9" stroke="#444444" stroke-width="1.5" stroke-linecap="butt"/>
<line x1="800.31" y1="2416.9" x2="800.31" y2="2419.9" stroke="#444444" stroke-width="1.5" stroke-linecap="butt"/>
<line x1="823.78" y1="2416.9" x2="823.78" y2="2419.9" stroke="#444444" stroke-width="1.5" stroke-linecap="butt"/>
<line x1="847.25" y1="2416.9" x2="847.25" y2="2421.9" stroke="#444444" stroke-width="1.5" stroke-linecap="butt"/>
<text x="850.64" y="2438" font-size="18.85" text-anchor="middle" fill="#000">60</text>
<line x1="870.72" y1="2416.9" x2="870.72" y2="2419.9" stroke="#444444" stroke-width="1.5" stroke-linecap="butt"/>
<line x1="894.19" y1="2416.9" x2="894.19" y2="2419.9" stroke="#444444" stroke-width="1.5" stroke-linecap="butt"/>
<line x1="917.66" y1="2416.9" x2="917.66" y2="2419.9" stroke="#444444" stroke-width="1.5" stroke-linecap="butt"/>
<line x1="941.13" y1="2416.9" x2="941.13" y2="2419.9" stroke="#444444" stroke-width="1.5" stroke-linecap="butt"/>
<line x1="964.6" y1="2416.9" x2="964.6" y2="2421.9" stroke="#444444" stroke-width="1.5" stroke-linecap="butt"/>
<text x="967.99" y="2438" font-size="18.85" text-anchor="middle" fill="#000">80</text>
<line x1="988.07" y1="2416.9" x2="988.07" y2="2419.9" stroke="#444444" stroke-width="1.5" stroke-linecap="butt"/>
<line x1="1011.54" y1="2416.9" x2="1011.54" y2="2419.9" stroke="#444444" stroke-width="1.5" stroke-linecap="butt"/>
<line x1="1035.01" y1="2416.9" x2="1035.01" y2="2419.9" stroke="#444444" stroke-width="1.5" stroke-linecap="butt"/>
<line x1="1058.48" y1="2416.9" x2="1058.48" y2="2419.9" stroke="#444444" stroke-width="1.5" stroke-linecap="butt"/>
<line x1="1081.95" y1="2416.9" x2="1081.95" y2="2421.9" stroke="#444444" stroke-width="1.5" stroke-linecap="butt"/>
<text x="1086.28" y="2438" font-size="18.85" text-anchor="middle" fill="#000">100</text>
<line x1="1105.42" y1="2416.9" x2="1105.42" y2="2419.9" stroke="#444444" stroke-width="1.5" stroke-linecap="butt"/>
<line x1="1128.89" y1="2416.9" x2="1128.89" y2="2419.9" stroke="#444444" stroke-width="1.5" stroke-linecap="butt"/>
<line x1="1152.36" y1="2416.9" x2="1152.36" y2="2419.9" stroke="#444444" stroke-width="1.5" stroke-linecap="butt"/>
<line x1="1175.83" y1="2416.9" x2="1175.83" y2="2419.9" stroke="#444444" stroke-width="1.5" stroke-linecap="butt"/>
<line x1="1199.3" y1="2416.9" x2="1199.3" y2="2421.9" stroke="#444444" stroke-width="1.5" stroke-linecap="butt"/>
<text x="1203.63" y="2438" font-size="18.85" text-anchor="middle" fill="#000">120</text>
<line x1="1222.77" y1="2416.9" x2="1222.77" y2="2419.9" stroke="#444444" stroke-width="1.5" stroke-linecap="butt"/>
<line x1="1246.24" y1="2416.9" x2="1246.24" y2="2419.9" stroke="#444444" stroke-width="1.5" stroke-linecap="butt"/>
<line x1="1269.71" y1="2416.9" x2="1269.71" y2="2419.9" stroke="#444444" stroke-width="1.5" stroke-linecap="butt"/>
<line x1="1293.18" y1="2416.9" x2="1293.18" y2="2419.9" stroke="#444444" stroke-width="1.5" stroke-linecap="butt"/>
<line x1="1316.65" y1="2416.9" x2="1316.65" y2="2421.9" stroke="#444444" stroke-width="1.5" stroke-linecap="butt"/>
<text x="1320.98" y="2438" font-size="18.85" text-anchor="middle" fill="#000">140</text>
<line x1="1340.12" y1="2416.9" x2="1340.12" y2="2419.9" stroke="#444444" stroke-width="1.5" stroke-linecap="butt"/>
<line x1="1363.59" y1="2416.9" x2="1363.59" y2="2419.9" stroke="#444444" stroke-width="1.5" stroke-linecap="butt"/>
<line x1="1387.06" y1="2416.9" x2="1387.06" y2="2419.9" stroke="#444444" stroke-width="1.5" stroke-linecap="butt"/>
<line x1="1410.53" y1="2416.9" x2="1410.53" y2="2419.9" stroke="#444444" stroke-width="1.5" stroke-linecap="butt"/>
<line x1="1434" y1="2416.9" x2="1434" y2="2421.9" stroke="#444444" stroke-width="1.5" stroke-linecap="butt"/>
<text x="1438.33" y="2438" font-size="18.85" text-anchor="middle" fill="#000">160</text>
<line x1="1457.47" y1="2416.9" x2="1457.47" y2="2419.9" stroke="#444444" stroke-width="1.5" stroke-linecap="butt"/>
<line x1="1480.94" y1="2416.9" x2="1480.94" y2="2419.9" stroke="#444444" stroke-width="1.5" stroke-linecap="butt"/>
<line x1="1504.41" y1="2416.9" x2="1504.41" y2="2419.9" stroke="#444444" stroke-width="1.5" stroke-linecap="butt"/>
<line x1="1527.88" y1="2416.9" x2="1527.88" y2="2419.9" stroke="#444444" stroke-width="1.5" stroke-linecap="butt"/>
<line x1="1551.35" y1="2416.9" x2="1551.35" y2="2421.9" stroke="#444444" stroke-width="1.5" stroke-linecap="butt"/>
<text x="1555.68" y="2438" font-size="18.85" text-anchor="middle" fill="#000">180</text>
<line x1="1574.82" y1="2416.9" x2="1574.82" y2="2419.9" stroke="#444444" stroke-width="1.5" stroke-linecap="butt"/>
<line x1="1598.29" y1="2416.9" x2="1598.29" y2="2419.9" stroke="#444444" stroke-width="1.5" stroke-linecap="butt"/>
<line x1="1621.76" y1="2416.9" x2="1621.76" y2="2419.9" stroke="#444444" stroke-width="1.5" stroke-linecap="butt"/>
<line x1="1645.23" y1="2416.9" x2="1645.23" y2="2419.9" stroke="#444444" stroke-width="1.5" stroke-linecap="butt"/>
<line x1="1668.7" y1="2416.9" x2="1668.7" y2="2421.9" stroke="#444444" stroke-width="1.5" stroke-linecap="butt"/>
<text x="1673.03" y="2438" font-size="18.85" text-anchor="middle" fill="#000">200</text>
<line x1="1082.5" y1="2471.1" x2="1325.6" y2="2471.1" stroke="#444444" stroke-width="1.5" stroke-linecap="butt"/>
<line x1="1082.5" y1="2471.1" x2="1082.5" y2="2476.1" stroke="#444444" stroke-width="1.5" stroke-linecap="butt"/>
<text x="1068.5" y="2491.9" font-size="18.85" text-anchor="start" fill="#000">0.01</text>
<line x1="1145.5" y1="2471.1" x2="1145.5" y2="2476.1" stroke="#444444" stroke-width="1.5" stroke-linecap="butt"/>
<text x="1133.1" y="2491.9" font-size="18.85" text-anchor="start" fill="#000">0.1</text>
<line x1="1181.4" y1="2471.1" x2="1181.4" y2="2476.1" stroke="#444444" stroke-width="1.5" stroke-linecap="butt"/>
<text x="1165.9" y="2491.9" font-size="18.85" text-anchor="start" fill="#000">0.3</text>
<line x1="1203.4" y1="2471.1" x2="1203.4" y2="2476.1" stroke="#444444" stroke-width="1.5" stroke-linecap="butt"/>
<text x="1194.1" y="2491.9" font-size="18.85" text-anchor="start" fill="#000">0.5</text>
<line x1="1240.2" y1="2471.1" x2="1240.2" y2="2476.1" stroke="#444444" stroke-width="1.5" stroke-linecap="butt"/>
<text x="1224.4" y="2491.9" font-size="18.85" text-anchor="start" fill="#000">0.8</text>
<line x1="1262.2" y1="2471.1" x2="1262.2" y2="2476.1" stroke="#444444" stroke-width="1.5" stroke-linecap="butt"/>
<text x="1252" y="2491.9" font-size="18.85" text-anchor="start" fill="#000">0.9</text>
<line x1="1325.6" y1="2471.1" x2="1325.6" y2="2476.1" stroke="#444444" stroke-width="1.5" stroke-linecap="butt"/>
<text x="1311.8" y="2491.9" font-size="18.85" text-anchor="start" fill="#000">0.99</text>
</svg>
</body></html>
